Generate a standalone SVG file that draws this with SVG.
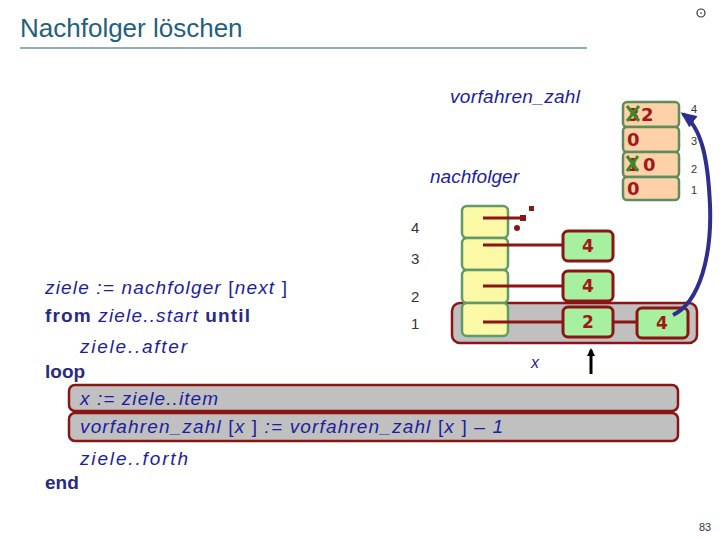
<svg xmlns="http://www.w3.org/2000/svg" width="720" height="540" viewBox="0 0 720 540">
<defs>
<style>
.code{font-family:"Liberation Sans",Arial,sans-serif;font-size:19px;fill:#1e1e9c;font-style:italic}
.kw{font-style:normal;font-weight:bold;fill:#2a2a80}
.br{font-style:normal}
.idx{font-family:"Liberation Sans",Arial,sans-serif;font-size:15px;fill:#333}
.idxs{font-family:"Liberation Sans",Arial,sans-serif;font-size:11px;fill:#333}
.vz{fill:#fdd2a8;stroke:#5e8c5e;stroke-width:2.5}
.nf{fill:#fcf9a6;stroke:#5e9a6a;stroke-width:2.5}
.gb{fill:#a6f0a0;stroke:#8b1414;stroke-width:3}
.num{font-family:"DejaVu Sans",Arial,sans-serif;font-size:17px;font-weight:bold;fill:#a01818;text-anchor:middle}
.vnum{font-family:"DejaVu Sans",Arial,sans-serif;font-size:18px;font-weight:bold;fill:#a01818}
.ptr{stroke:#8b1414;stroke-width:3;fill:none}
.hl{fill:#c0c0c0;stroke:#8b1414;stroke-width:2.5}
.cross{stroke:#3c8a2a;stroke-width:3}
</style>
<marker id="ab" markerWidth="8" markerHeight="8" refX="6" refY="4" orient="auto" markerUnits="userSpaceOnUse">
<path d="M0,0 L8,4 L0,8 z" fill="#000"/>
</marker>
<marker id="ablue" markerWidth="16" markerHeight="14" refX="13" refY="7" orient="auto" markerUnits="userSpaceOnUse">
<path d="M0,0 L16,7 L0,14 z" fill="#2e2e8c"/>
</marker>
</defs>

<g id="title">
<text x="20" y="37" font-family="'Liberation Sans',Arial,sans-serif" font-size="26" fill="#245f80">Nachfolger löschen</text>
<line x1="20" y1="48" x2="587" y2="48" stroke="#245f80" stroke-width="1.2"/>
<circle cx="701" cy="13" r="4" fill="none" stroke="#333" stroke-width="1.2"/>
<circle cx="701" cy="13" r="0.8" fill="#333"/>
</g>

<g id="highlights">
<rect class="hl" x="452" y="303" width="245" height="40" rx="8"/>
<rect class="hl" x="69" y="385" width="609" height="26" rx="6"/>
<rect class="hl" x="69" y="413" width="609" height="28" rx="6"/>
</g>

<g id="vorfahren_zahl">
<text class="code" x="450" y="103" textLength="130">vorfahren_zahl</text>
<rect class="vz" x="623" y="102" width="56" height="25" rx="4"/>
<rect class="vz" x="623" y="127" width="56" height="25" rx="4"/>
<rect class="vz" x="623" y="152" width="56" height="25" rx="4"/>
<rect class="vz" x="623" y="177" width="56" height="23" rx="4"/>
<text class="vnum" x="627" y="121">3</text>
<line class="cross" x1="627" y1="106" x2="639" y2="121"/>
<line class="cross" x1="639" y1="106" x2="627" y2="121"/>
<text class="vnum" x="641" y="121">2</text>
<text class="vnum" x="627" y="146">0</text>
<text class="vnum" x="627" y="171">1</text>
<line class="cross" x1="627" y1="156" x2="638" y2="171"/>
<line class="cross" x1="638" y1="156" x2="627" y2="171"/>
<text class="vnum" x="643" y="171">0</text>
<text class="vnum" x="627" y="195">0</text>
<text class="idxs" x="691" y="113">4</text>
<text class="idxs" x="691" y="145">3</text>
<text class="idxs" x="691" y="173">2</text>
<text class="idxs" x="691" y="194">1</text>
</g>

<g id="nachfolger">
<text class="code" x="430" y="183" textLength="89">nachfolger</text>
<rect class="nf" x="462" y="206" width="46" height="32" rx="5"/>
<rect class="nf" x="462" y="238" width="46" height="32" rx="5"/>
<rect class="nf" x="462" y="270" width="46" height="33" rx="5"/>
<rect class="nf" x="462" y="303" width="46" height="33" rx="5"/>
<text class="idx" x="411" y="233">4</text>
<text class="idx" x="411" y="264">3</text>
<text class="idx" x="411" y="302">2</text>
<text class="idx" x="411" y="329">1</text>
</g>

<g id="succ4">
<rect class="gb" x="563" y="231" width="50" height="30" rx="5"/>
<text class="num" x="588" y="252">4</text>
</g>
<g id="succ3">
<rect class="gb" x="563" y="271" width="50" height="30" rx="5"/>
<text class="num" x="588" y="292">4</text>
</g>
<g id="succ2">
<rect class="gb" x="563" y="307" width="50" height="30" rx="5"/>
<text class="num" x="588" y="328">2</text>
</g>
<g id="succ1">
<rect class="gb" x="637" y="308" width="51" height="30" rx="5"/>
<text class="num" x="662" y="329">4</text>
</g>

<g id="connectors">
<line class="ptr" x1="483" y1="218" x2="523" y2="218"/>
<rect x="520" y="215" width="6" height="6" fill="#8b1414"/>
<rect x="529" y="206" width="5" height="5" fill="#8b1414"/>
<circle cx="517" cy="228" r="3" fill="#8b1414"/>
<line class="ptr" x1="483" y1="245" x2="563" y2="245"/>
<line class="ptr" x1="483" y1="286" x2="563" y2="286"/>
<line class="ptr" x1="483" y1="322" x2="563" y2="322"/>
<line class="ptr" x1="613" y1="322" x2="637" y2="322"/>
<path d="M673,315 C700,302 712,255 710,205 C708,160 702,128 683,114" fill="none" stroke="#2e2e8c" stroke-width="4" marker-end="url(#ablue)"/>
<line x1="591" y1="374" x2="591" y2="350" stroke="#000" stroke-width="3" marker-end="url(#ab)"/>
<text x="531" y="368" font-family="'Liberation Sans',Arial,sans-serif" font-size="16" font-style="italic" fill="#1e1e9c">x</text>
</g>

<g id="code">
<text class="code" x="45" y="294" textLength="242">ziele := nachfolger <tspan class="br">[</tspan>next <tspan class="br">]</tspan></text>
<text class="code" x="45" y="322" textLength="205"><tspan class="kw">from</tspan> ziele..start <tspan class="kw">until</tspan></text>
<text class="code" x="80" y="353" textLength="107">ziele..after</text>
<text class="code" x="45" y="378"><tspan class="kw">loop</tspan></text>
<text class="code" x="80" y="405" textLength="138">x := ziele..item</text>
<text class="code" x="80" y="433" textLength="423">vorfahren_zahl <tspan class="br">[</tspan>x <tspan class="br">]</tspan> := vorfahren_zahl <tspan class="br">[</tspan>x <tspan class="br">]</tspan> – 1</text>
<text class="code" x="80" y="465" textLength="108">ziele..forth</text>
<text class="code" x="45" y="489"><tspan class="kw">end</tspan></text>
</g>

<text x="699" y="531" font-family="'Liberation Sans',Arial,sans-serif" font-size="11" fill="#333">83</text>
</svg>
